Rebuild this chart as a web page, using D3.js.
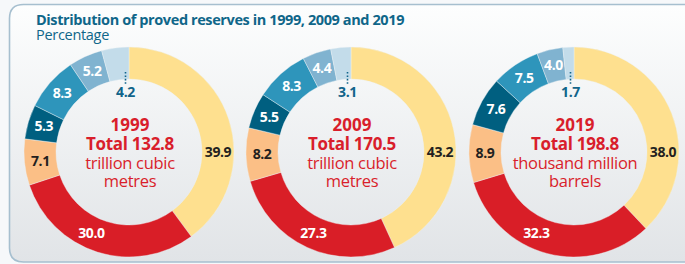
<!DOCTYPE html>
<html>
<head>
<meta charset="utf-8">
<script src="https://cdn.jsdelivr.net/npm/d3@7"></script>
<style>
  html, body { margin: 0; padding: 0; background: #f6f8fa; }
  svg { display: block; }
  text { font-family: "Open Sans", sans-serif; }
</style>
</head>
<body>
<svg id="graf" width="685" height="264"></svg>
<script>
// data (percentage shares, clockwise from the top)
var years = ["1999", "2009", "2019"]
var totals = ["132.8", "170.5", "198.8"]
var units = [["trillion cubic", "metres"], ["trillion cubic", "metres"], ["thousand million", "barrels"]]
var shares1999 = [39.9, 30.0, 7.1, 5.3, 8.3, 5.2, 4.2]
var shares2009 = [43.2, 27.3, 8.2, 5.5, 8.3, 4.4, 3.1]
var shares2019 = [38.0, 32.3, 8.9, 7.6, 7.5, 4.0, 1.7]
var allShares = [shares1999, shares2009, shares2019]
var barvy = ["#fee08f", "#d91e27", "#fbbf86", "#005f80", "#2e95bb", "#80b3d0", "#c3dcea"]
var textBarvy = ["#231f20", "#fff", "#231f20", "#fff", "#fff", "#fff", "#11648a"]

var W = 685, H = 264
var svg = d3.select("#graf")

// panel background
var defs = svg.append("defs")
var grad = defs.append("linearGradient").attr("id", "bg").attr("x1", 0).attr("y1", 0).attr("x2", 0).attr("y2", 1)
grad.append("stop").attr("offset", "0%").attr("stop-color", "#fdfefe")
grad.append("stop").attr("offset", "100%").attr("stop-color", "#e1e4e7")

var px = 9.5, py = 4.5, pr = 14, pb = 262
svg.append("path")
  .attr("d", "M" + (W + 5) + "," + py + " L" + (px + pr) + "," + py +
    " Q" + px + "," + py + " " + px + "," + (py + pr) +
    " L" + px + "," + (pb - pr) + " Q" + px + "," + pb + " " + (px + pr) + "," + pb +
    " L" + (W + 5) + "," + pb)
  .attr("fill", "url(#bg)")
  .attr("stroke", "#a6bfcf")
  .attr("stroke-width", 1.6)

// title
svg.append("text").attr("x", 36).attr("y", 25)
  .style("font-size", "14.5px").style("font-weight", "bold").style("letter-spacing", "-0.4px")
  .attr("fill", "#0f6689")
  .text("Distribution of proved reserves in 1999, 2009 and 2019")
svg.append("text").attr("x", 36).attr("y", 39.5)
  .style("font-size", "14.5px").style("letter-spacing", "-0.3px")
  .attr("fill", "#0f6689")
  .text("Percentage")

var cxs = [129, 351, 574], cy = 152
var R = 105, r = 73, rl = 89

var pie = d3.pie().sort(null).value(function(d){ return d })
var arc = d3.arc().innerRadius(r).outerRadius(R)

// a few labels are placed by hand in the original (degrees from top)
var labelAngle = {0: 90, 1: 205}

allShares.forEach(function(shares, k) {
  var g = svg.append("g").attr("transform", "translate(" + cxs[k] + "," + cy + ")")
  var arcs = pie(shares)

  g.selectAll("path.seg").data(arcs).enter().append("path")
    .attr("class", "seg")
    .attr("d", arc)
    .attr("fill", function(d, i){ return barvy[i] })
    .attr("stroke", "#eef3f6")
    .attr("stroke-width", 0.4)

  var last = shares.length - 1
  g.selectAll("text.lab").data(arcs).enter().append("text")
    .attr("class", "lab")
    .attr("x", function(d, i){
      if (i === last) return -3.5
      var a = labelAngle[i] !== undefined ? labelAngle[i] * Math.PI / 180 : (d.startAngle + d.endAngle) / 2
      return rl * Math.sin(a)
    })
    .attr("y", function(d, i){
      if (i === last) return -r + 13
      var a = labelAngle[i] !== undefined ? labelAngle[i] * Math.PI / 180 : (d.startAngle + d.endAngle) / 2
      return -rl * Math.cos(a)
    })
    .attr("dy", "0.36em")
    .attr("text-anchor", "middle")
    .style("font-size", "14px").style("font-weight", "bold").style("letter-spacing", "-0.4px")
    .attr("fill", function(d, i){ return textBarvy[i] })
    .text(function(d){ return d3.format(".1f")(d.data) })

  // dotted leader for the smallest slice
  g.append("line")
    .attr("x1", -3.5).attr("x2", -3.5)
    .attr("y1", -r - 7).attr("y2", -r + 6)
    .attr("stroke", "#11648a").attr("stroke-width", 1.6)
    .attr("stroke-dasharray", "1.6,1.8")

  // centre text
  var c = g.append("text").attr("text-anchor", "middle").attr("fill", "#d91e2b")
  c.append("tspan").attr("x", 1).attr("y", -21).style("font-size", "17px").style("font-weight", "bold").text(years[k])
  c.append("tspan").attr("x", 1).attr("y", -2).style("font-size", "17px").style("font-weight", "bold")
    .style("letter-spacing", "-0.3px").text("Total " + totals[k])
  c.append("tspan").attr("x", 1).attr("y", 17).style("font-size", "16.5px").style("letter-spacing", "-0.3px").text(units[k][0])
  c.append("tspan").attr("x", 1).attr("y", 35).style("font-size", "16.5px").style("letter-spacing", "-0.3px").text(units[k][1])
})
</script>
</body>
</html>
